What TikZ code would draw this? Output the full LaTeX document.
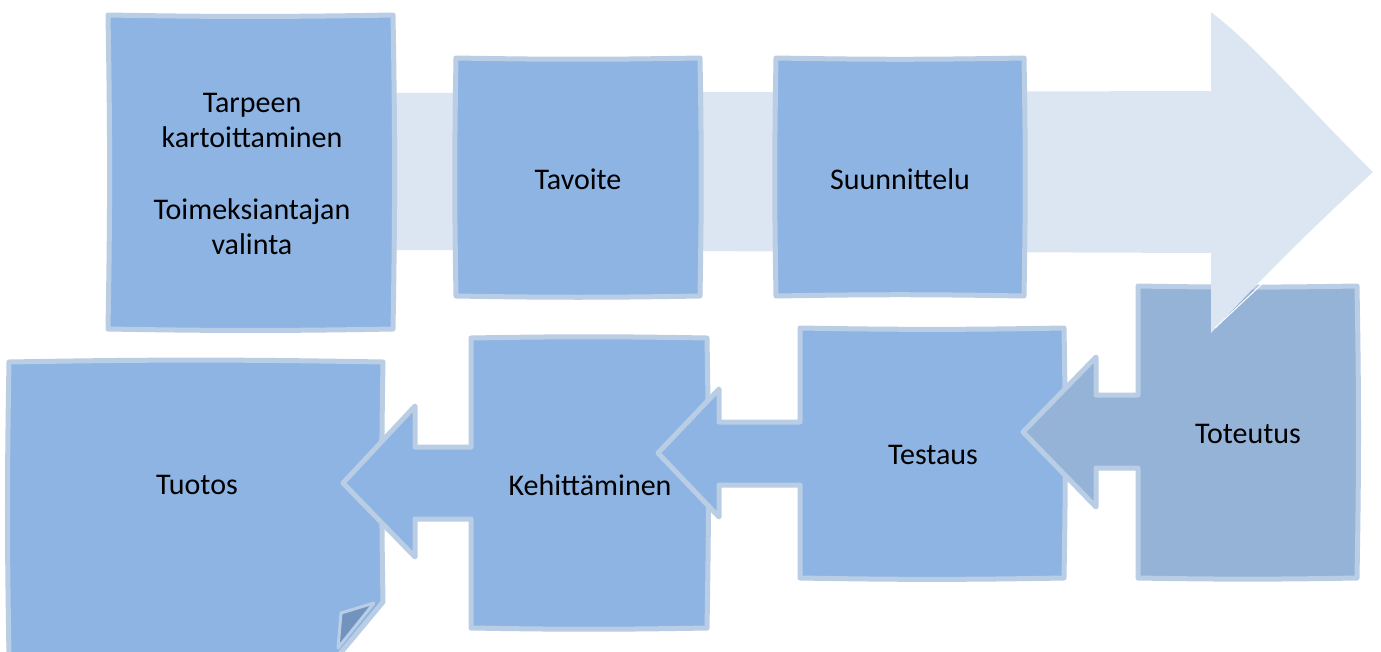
\documentclass[tikz,border=0pt]{standalone}
\usepackage{fontspec}
\setmainfont{Carlito}
\definecolor{boxfill}{HTML}{8EB4E3}
\definecolor{boxline}{HTML}{B9CDE5}
\definecolor{totfill}{HTML}{95B3D7}
\definecolor{bigarrow}{HTML}{DCE6F2}
\definecolor{folddark}{HTML}{7293BE}
\begin{document}
\begin{tikzpicture}[x=1pt,y=-1pt,
  boxshape/.style={fill=boxfill,draw=boxline,line width=5pt,line join=round},
  totshape/.style={fill=totfill,draw=boxline,line width=5pt,line join=round},
  bigshape/.style={fill=bigarrow,draw=none},
  label/.style={font=\fontsize{30}{35}\selectfont,align=center,text=black,inner sep=0pt}]
\useasboundingbox (0,0) rectangle (1381,651);
% Tuotos (folded page)
\draw[boxshape] (9,362) to[bend left=1] (383,362) to[bend right=1] (383,602) -- (338,656) -- (9,656) to[bend left=1] cycle;
\draw[fill=folddark,draw=boxline,line width=3pt,line join=round] (341,613) -- (374,603) -- (338,648) -- cycle;
% Kehittaminen callout
\draw[boxshape] (471,338) to[bend left=1] (707,338) to[bend left=1] (707,628) to[bend left=1] (471,628) -- (471,519) -- (415,519) -- (415,557) -- (343,483) -- (415,406) -- (415,447) -- (471,447) -- cycle;
% Testaus callout
\draw[boxshape] (800,328) to[bend right=1] (1064,328) to[bend left=1] (1064,578) to[bend left=1] (800,578) -- (800,485) -- (719,485) -- (719,517) -- (658,453) -- (719,389) -- (719,422) -- (800,422) -- cycle;
% Toteutus callout
\draw[totshape] (1138,286) to[bend right=1] (1357,286) to[bend left=1] (1357,578) to[bend left=1] (1138,578) -- (1138,468) -- (1096,468) -- (1096,507) -- (1023,432) -- (1096,357) -- (1096,395) -- (1138,395) -- cycle;
% big background arrow
\fill[bigshape] (395,93) -- (1211,91) -- (1211,12) .. controls (1260,50) and (1300,100) .. (1373,172) .. controls (1310,230) and (1260,280) .. (1211,333) -- (1211,253) -- (395,250) -- cycle;
\draw[white,line width=1pt] (1215,328) -- (1262,284);
% top boxes
\draw[boxshape] (108,15) to[bend right=1] (393,15) to[bend left=1] (393,329) to[bend left=1] (108,329) to[bend right=1] cycle;
\draw[boxshape] (456,58) to[bend right=1] (700,58) to[bend left=1] (700,296) to[bend left=1] (456,296) to[bend left=1] cycle;
\draw[boxshape] (776,58) to[bend right=1] (1024,58) to[bend left=1] (1024,296) to[bend right=1] (776,296) to[bend left=1] cycle;
% labels
\node[label] (tarpeen) at (252,174) {Tarpeen\\kartoittaminen\\[37pt]Toimeksiantajan\\valinta};
\node[label] (tavoite) at (578,179) {Tavoite};
\node[label] (suunnittelu) at (900,179) {Suunnittelu};
\node[label] (toteutus) at (1248,434) {Toteutus};
\node[label] (testaus) at (933,455) {Testaus};
\node[label] (kehittaminen) at (590,485) {Kehittäminen};
\node[label] (tuotos) at (197,485) {Tuotos};
\end{tikzpicture}
\end{document}
